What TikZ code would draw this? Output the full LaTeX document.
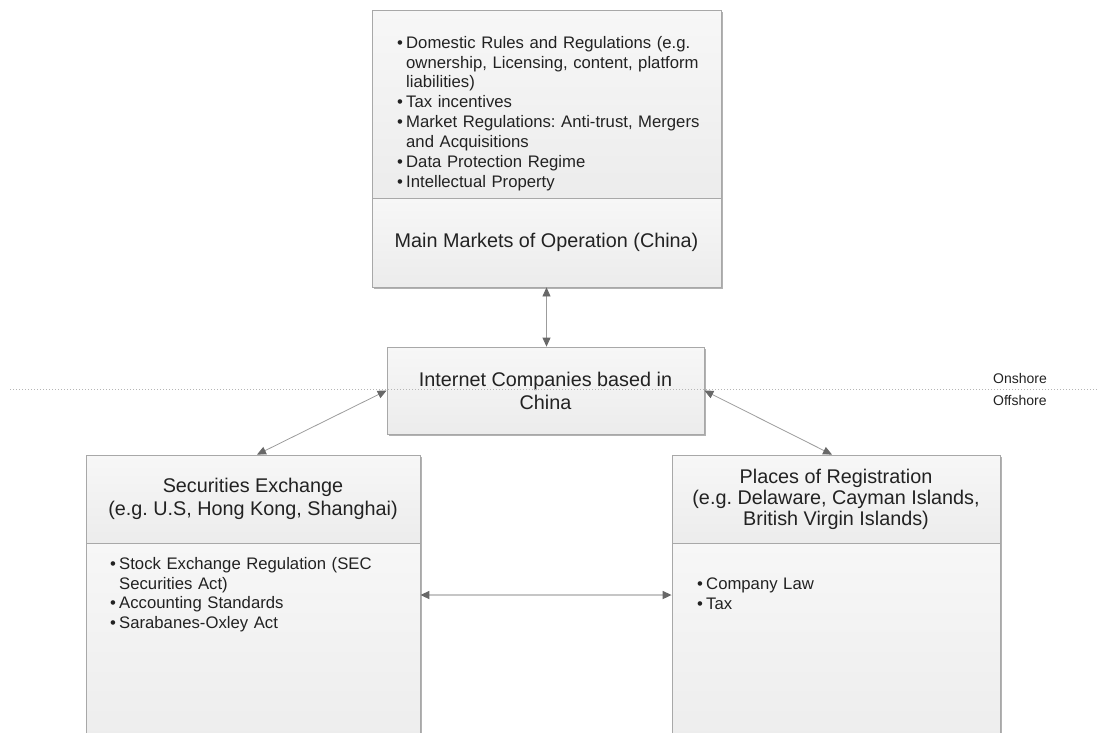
\documentclass[tikz,border=0pt]{standalone}
\usepackage{fontspec}
\setmainfont{Liberation Sans}
\usetikzlibrary{arrows.meta,shadows}
\frenchspacing

\definecolor{boxline}{HTML}{A8A8A8}
\definecolor{boxtop}{HTML}{F7F7F7}
\definecolor{boxbot}{HTML}{ECECEC}
\definecolor{ink}{HTML}{222222}
\definecolor{linkgray}{HTML}{9C9C9C}
\definecolor{linklight}{HTML}{C6C6C6}
\definecolor{tipgray}{HTML}{686868}
\definecolor{sepgray}{HTML}{B5B5B5}

% one bulleted entry with hanging indent
\newcommand\bulletentry[1]{\par\noindent\hangindent=9pt\hangafter=1\makebox[9pt][l]{\textbullet}#1}

\tikzset{
  panel/.style={draw=boxline, line width=0.8pt, top color=boxtop, bottom color=boxbot,
    drop shadow={shadow xshift=1.5pt, shadow yshift=-1.5pt, opacity=0.3, fill=black},
    inner sep=0pt, text=ink, align=center},
  titletext/.style={font=\fontsize{19.8}{23}\selectfont},
  listtext/.style={anchor=north west, inner sep=0pt, text=ink, align=left,
    font=\fontsize{16.7}{19.9}\selectfont},
  link/.style={draw=linkgray, line width=0.8pt,
    {Triangle[length=9pt,width=8pt,color=tipgray,fill=tipgray]}-{Triangle[length=9pt,width=8pt,color=tipgray,fill=tipgray]}},
  linkwide/.style={link, draw=linklight, line width=1.6pt},
  sidelabel/.style={anchor=west, inner sep=0pt, text=ink, font=\fontsize{14}{16}\selectfont}
}

\begin{document}
\begin{tikzpicture}[x=1pt,y=-1pt]
\useasboundingbox (0,0) rectangle (1099,732);
\clip (0,0) rectangle (1099,732);

% onshore market box: list section above, title section below
\node[panel, minimum width=349pt, minimum height=188pt] (marketslist) at (546.5,104) {};
\node[panel, titletext, minimum width=349pt, minimum height=89pt] (markets) at (546.5,242.5)
  {Main Markets of Operation (China)};
\node[listtext, text width=330pt] (marketsitems) at (397,28) {%
  \bulletentry{Domestic Rules and Regulations (e.g.\newline ownership, Licensing, content, platform\newline liabilities)}%
  \bulletentry{Tax incentives}%
  \bulletentry{Market Regulations: Anti-trust, Mergers\newline and Acquisitions}%
  \bulletentry{Data Protection Regime}%
  \bulletentry{Intellectual Property}};

% the companies themselves
\node[panel, titletext, minimum width=317pt, minimum height=87pt] (internet) at (545.5,390.5)
  {Internet Companies based in\\China};

% securities exchange box
\node[panel, titletext, minimum width=334pt, minimum height=88pt] (secex) at (253,499)
  {Securities Exchange\\(e.g. U.S, Hong Kong, Shanghai)};
\node[panel, minimum width=334pt, minimum height=217pt] (secexbody) at (253,651.5) {};
\node[listtext, text width=300pt] (secexitems) at (110,549) {%
  \bulletentry{Stock Exchange Regulation (SEC\newline Securities Act)}%
  \bulletentry{Accounting Standards}%
  \bulletentry{Sarabanes-Oxley Act}};

% places of registration box
\node[panel, minimum width=328pt, minimum height=88pt,
  font=\fontsize{19.8}{21}\selectfont] (reg) at (836,499)
  {Places of Registration\\(e.g. Delaware, Cayman Islands,\\British Virgin Islands)};
\node[panel, minimum width=328pt, minimum height=217pt] (regbody) at (836,651.5) {};
\node[listtext, text width=290pt] (regitems) at (697,569) {%
  \bulletentry{Company Law}%
  \bulletentry{Tax}};

% connectors
\draw[link] (markets.south) -- (markets.south |- internet.north);
\draw[link] (internet.west) -- ([xshift=4pt]secex.north);
\draw[link] (internet.east) -- ([xshift=-4pt]reg.north);
\coordinate (hleft) at (secexbody.east |- 0,595);
\coordinate (hright) at (regbody.west |- 0,595);
\draw[linkwide] (hleft) -- (hright);

% onshore / offshore boundary
\coordinate (sepstart) at (10,389);
\coordinate (sepend) at (1099,389);
\draw[sepgray, line width=0.8pt, dash pattern=on 1pt off 2pt] (sepstart) -- (sepend);
\node[sidelabel] (onshore) at (993,378) {Onshore};
\node[sidelabel] (offshore) at (993,400) {Offshore};
\end{tikzpicture}
\end{document}
